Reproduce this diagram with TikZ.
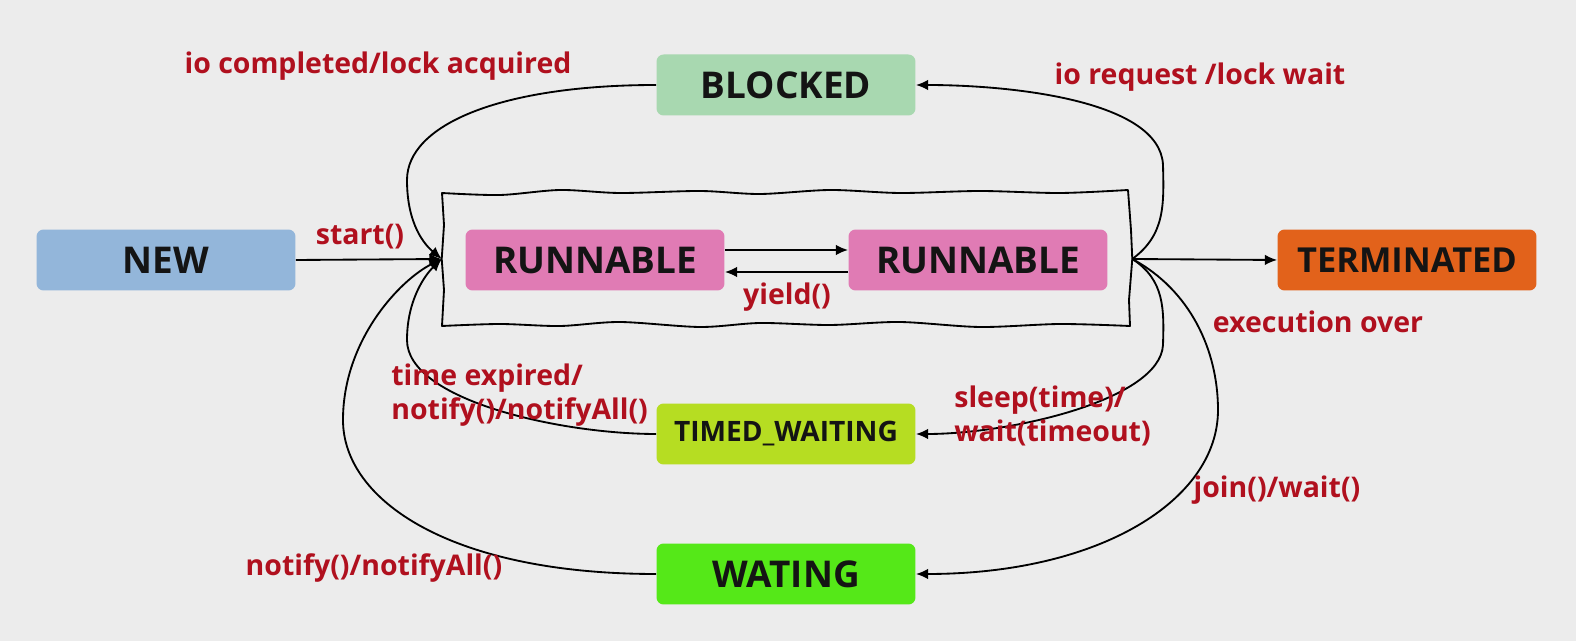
\documentclass[tikz,border=0pt]{standalone}
\usepackage{fontspec}
\setmainfont{Open Sans}
\usetikzlibrary{arrows.meta, positioning}

\definecolor{bgGray}{HTML}{ECECEC}
\definecolor{labelRed}{HTML}{B0101E}
\definecolor{newBlue}{HTML}{93B6DA}
\definecolor{runPink}{HTML}{E07BB4}
\definecolor{termOrange}{HTML}{E2621B}
\definecolor{blockGreen}{HTML}{A8D8B0}
\definecolor{timedGreen}{HTML}{B6DD22}
\definecolor{waitGreen}{HTML}{55E818}

\begin{document}
\begin{tikzpicture}[x=0.02cm, y=-0.02cm,
    state/.style={rounded corners=4pt, minimum width=5.18cm, minimum height=1.22cm,
      inner sep=0pt, text=black!92, font=\bfseries\fontsize{21}{24}\selectfont},
    trans/.style={-{Latex[length=7pt,width=6pt]}, line width=1.05pt},
    lbl/.style={text=labelRed, inner sep=0pt, font=\bfseries\fontsize{16.2}{19}\selectfont}]
  % Background
  \fill[bgGray] (0,0) rectangle (1576,641);
  \useasboundingbox (0,0) rectangle (1576,641);
  % States
  \node[state, fill=newBlue] (new) at (166,260) {NEW};
  \node[state, fill=runPink] (run1) at (595,260) {RUNNABLE};
  \node[state, fill=runPink] (run2) at (978,260) {RUNNABLE};
  \node[state, fill=termOrange, font=\bfseries\fontsize{19.6}{22}\selectfont] (term) at (1407,260) {TERMINATED};
  \node[state, fill=blockGreen] (blocked) at (786,85) {BLOCKED};
  \node[state, fill=timedGreen, font=\bfseries\fontsize{16}{19}\selectfont] (timed) at (786,434) {TIMED\_WAITING};
  \node[state, fill=waitGreen] (wait) at (786,574) {WATING};
  % Container of the two runnables
  \node[minimum width=13.8cm, minimum height=2.68cm] (box) at (787,259) {};
  \draw[line width=1.05pt, line join=round]
    plot[smooth, tension=0.5] coordinates {(442,193) (500,195) (560,190) (620,193) (700,191)
      (760,194) (830,190) (900,193) (980,191) (1060,193) (1128,190)}
    -- (1131,230) -- (box.east) -- (1129,300) -- (1130,326)
    -- plot[smooth, tension=0.5] coordinates {(1130,326) (1060,324) (980,327) (900,322) (830,325)
      (760,323) (700,327) (620,322) (560,326) (500,324) (442,326)}
    -- (444,290) -- (box.west) -- (444,225) -- cycle;
  % Transitions
  \draw[trans] (new.east) -- (box.west);
  \draw[trans] (box.east) -- (term.west);
  \draw[trans] ([yshift=0.2cm]run1.east) -- ([yshift=0.2cm]run2.west);
  \draw[trans] ([yshift=-0.24cm]run2.west) -- ([yshift=-0.24cm]run1.east);
  \draw[trans] (box.east) .. controls (1165,235) and (1164,205) .. (1163,165)
    .. controls (1160,100) and (1010,85) .. (blocked.east);
  \draw[trans] (blocked.west) .. controls (500,85) and (407,125) .. (407,180)
    .. controls (407,225) and (425,245) .. (box.west);
  \draw[trans] (box.east) .. controls (1165,280) and (1164,310) .. (1163,345)
    .. controls (1160,400) and (1010,434) .. (timed.east);
  \draw[trans] (timed.west) .. controls (560,434) and (407,400) .. (407,340)
    .. controls (407,300) and (425,275) .. (box.west);
  \draw[trans] (box.east) .. controls (1190,290) and (1218,350) .. (1218,410)
    .. controls (1218,500) and (1100,574) .. (wait.east);
  \draw[trans] (wait.west) .. controls (450,574) and (343,500) .. (343,420)
    .. controls (343,340) and (400,280) .. (box.west);
  % Labels
  \node[lbl] (lstart) at (360,237) {start()};
  \node[lbl] (lyield) at (787,297) {yield()};
  \node[lbl] (lexec) at (1318,322) {execution over};
  \node[lbl] (lioc) at (378,66) {io completed/lock acquired};
  \node[lbl] (lior) at (1200,77) {io request /lock wait};
  \node[lbl, anchor=west, align=left] (ltime) at (391,395) {time expired/\\notify()/notifyAll()};
  \node[lbl, anchor=west, align=left] (lsleep) at (954,416) {sleep(time)/\\wait(timeout)};
  \node[lbl] (ljoin) at (1277,490) {join()/wait()};
  \node[lbl] (lnotify) at (374,568) {notify()/notifyAll()};
\end{tikzpicture}
\end{document}
